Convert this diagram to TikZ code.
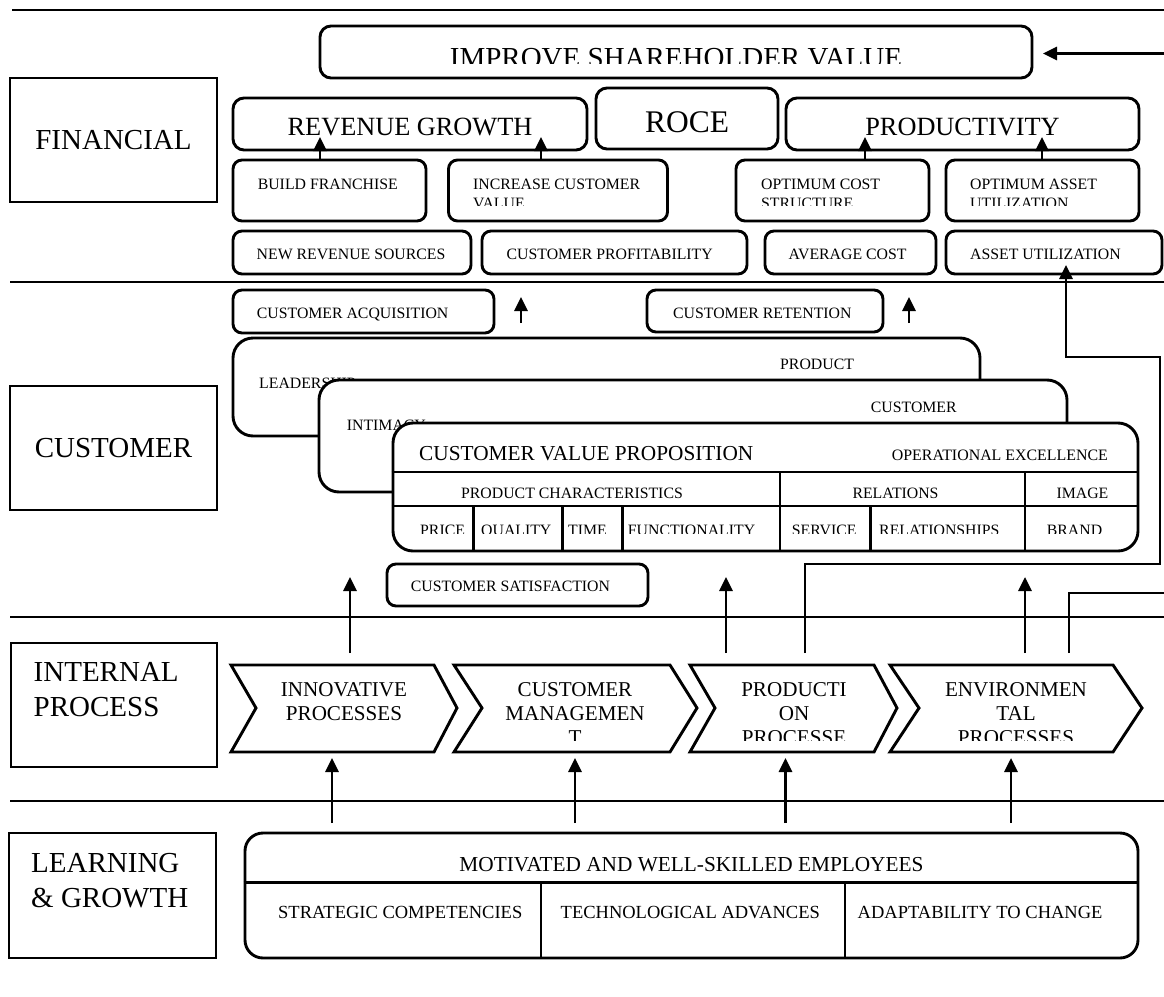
\documentclass[tikz,border=0pt]{standalone}
\usepackage{fontspec}
\setmainfont{Liberation Serif}
\usetikzlibrary{arrows.meta}
\newcommand{\fsz}[1]{\fontsize{#1}{#1}\selectfont}
\newcommand{\chev}[5]{\draw[lw,fill=white] (#2,665) -- (#4,665) -- (#5,708) -- (#4,752) -- (#2,752) -- (#3,708) -- cycle; \coordinate (#1) at ({(#2+#5)/2},708);}
\begin{document}
\begin{tikzpicture}[x=1pt,y=-1pt,
  lw/.style={line width=2.9pt},
  labbox/.style={draw,lw,inner sep=0pt,font=\fsz{29}},
  rbox/.style={draw,lw,rounded corners=9pt,inner sep=0pt,fill=white},
  bigbox/.style={draw,lw,rounded corners=20pt,inner sep=0pt,fill=white},
  arr/.style={lw,-{Triangle[length=14pt,width=13pt]}},
  tl/.style={inner sep=0pt,anchor=base west},
  tc/.style={inner sep=0pt,anchor=base},
  sm/.style={font=\fsz{15.8}},
  chv/.style={tc,font=\fsz{21.1}},
]
\useasboundingbox (0,0) rectangle (1164,996);

% ---------- horizontal rules ----------
\coordinate (r1a) at (12,10);  \coordinate (r1b) at (1164,10);
\coordinate (r2a) at (10,282); \coordinate (r2b) at (1164,282);
\coordinate (r3a) at (10,617); \coordinate (r3b) at (1164,617);
\coordinate (r4a) at (10,801); \coordinate (r4b) at (1164,801);
\draw[lw] (r1a) -- (r1b);
\draw[lw] (r2a) -- (r2b);
\draw[lw] (r3a) -- (r3b);
\draw[lw] (r4a) -- (r4b);

% ---------- perspective labels ----------
\node[labbox,minimum width=207pt,minimum height=124pt] (lfin) at (113.5,140) {FINANCIAL};
\node[labbox,minimum width=207pt,minimum height=124pt] (lcus) at (113.5,448) {CUSTOMER};
\node[labbox,minimum width=206pt,minimum height=124pt] (lint) at (114,705) {};
\node[tl,font=\fsz{29}] (lint1) at (33.5,681.5) {INTERNAL};
\node[tl,font=\fsz{29}] (lint2) at (33.5,716) {PROCESS};
\node[labbox,minimum width=207pt,minimum height=125pt] (llg) at (112.5,895.5) {};
\node[tl,font=\fsz{29}] (llg1) at (31,872) {LEARNING};
\node[tl,font=\fsz{29}] (llg2) at (31,907) {\& GROWTH};

% ---------- financial ----------
\node[rbox,rounded corners=11pt,minimum width=712pt,minimum height=52pt] (isv) at (676,52) {};
\begin{scope}
\clip (322,28) rectangle (1030,63);
\node[tc,font=\fsz{29}] (isvt) at (676,67) {IMPROVE SHAREHOLDER VALUE};
\end{scope}

\node[rbox,rounded corners=11pt,minimum width=354pt,minimum height=52pt] (rev) at (410,124) {};
\node[tc,font=\fsz{26.3}] (revt) at (410,135) {REVENUE GROWTH};
\node[rbox,rounded corners=11pt,minimum width=182pt,minimum height=61pt] (roce) at (687,118.5) {};
\node[tc,font=\fsz{31.5}] (rocet) at (687,132) {ROCE};
\node[rbox,rounded corners=11pt,minimum width=353pt,minimum height=52pt] (prv) at (962.5,124) {};
\node[tc,font=\fsz{26.3}] (prvt) at (962.5,135) {PRODUCTIVITY};

\node[rbox,minimum width=193pt,minimum height=61pt] (bf) at (329.5,190.5) {};
\node[tl,sm] (bft) at (257.6,189.5) {BUILD FRANCHISE};
\node[rbox,minimum width=219pt,minimum height=61pt] (icv) at (558,190.5) {};
\node[rbox,minimum width=193pt,minimum height=61pt] (ocs) at (832.5,190.5) {};
\node[rbox,minimum width=193pt,minimum height=61pt] (oau) at (1042.5,190.5) {};
\begin{scope}
\clip (440,165) rectangle (1140,205.5);
\node[tl,sm] (icv1) at (473,189.5) {INCREASE CUSTOMER};
\node[tl,sm] (icv2) at (473,208.5) {VALUE};
\node[tl,sm] (ocs1) at (761,189.5) {OPTIMUM COST};
\node[tl,sm] (ocs2) at (761,208.5) {STRUCTURE};
\node[tl,sm] (oau1) at (970,189.5) {OPTIMUM ASSET};
\node[tl,sm] (oau2) at (970,208.5) {UTILIZATION};
\end{scope}

\node[rbox,minimum width=238pt,minimum height=43pt] (nrs) at (352,252.5) {};
\node[tl,sm] (nrst) at (256.5,259) {NEW REVENUE SOURCES};
\node[rbox,minimum width=265pt,minimum height=43pt] (cpr) at (614.5,252.5) {};
\node[tl,sm] (cprt) at (506.5,259) {CUSTOMER PROFITABILITY};
\node[rbox,minimum width=171pt,minimum height=43pt] (avc) at (850.5,252.5) {};
\node[tl,sm] (avct) at (788.5,259) {AVERAGE COST};
\node[rbox,minimum width=216pt,minimum height=43pt] (au) at (1054,252.5) {};
\node[tl,sm] (aut) at (970,259) {ASSET UTILIZATION};

% financial arrows
\coordinate (fa1) at (320,137);  \draw[arr] (bf.north -| fa1) -- (fa1);
\coordinate (fa2) at (541,137);  \draw[arr] (icv.north -| fa2) -- (fa2);
\coordinate (fa3) at (865,137);  \draw[arr] (ocs.north -| fa3) -- (fa3);
\coordinate (fa4) at (1042,137); \draw[arr] (oau.north -| fa4) -- (fa4);
\coordinate (inR) at (1164,53.5); \coordinate (isvR) at (1043,53.5);
\draw[arr] (inR) -- (isvR);

% ---------- customer ----------
\node[rbox,minimum width=261pt,minimum height=43pt] (cacq) at (363.5,311.5) {};
\node[tl,sm] (cacqt) at (256.7,318.5) {CUSTOMER ACQUISITION};
\node[rbox,minimum width=236pt,minimum height=42pt] (cret) at (765,311) {};
\node[tl,sm] (crett) at (673,318.5) {CUSTOMER RETENTION};
\coordinate (ca1) at (521,323); \coordinate (ca1t) at (521,297);
\draw[arr] (ca1) -- (ca1t);
\coordinate (ca2) at (909,323); \coordinate (ca2t) at (909,297);
\draw[arr] (ca2) -- (ca2t);

\node[bigbox,minimum width=747pt,minimum height=98pt] (lead) at (606.5,387) {};
\node[tl,sm] (lead1) at (780,369) {PRODUCT};
\node[tl,sm] (lead2) at (259,388) {LEADERSHIP};
\node[bigbox,minimum width=748pt,minimum height=112pt] (intim) at (693,436) {};
\node[tl,sm] (intim1) at (870.7,412) {CUSTOMER};
\node[tl,sm] (intim2) at (346.7,430) {INTIMACY};
\node[bigbox,minimum width=745pt,minimum height=128pt] (cvp) at (765.5,487) {};
\node[tl,font=\fsz{21.3}] (cvpt) at (419,460) {CUSTOMER VALUE PROPOSITION};
\node[tl,font=\fsz{15.9}] (opex) at (891.7,460) {OPERATIONAL EXCELLENCE};
% table lines
\draw[lw] (cvp.west |- 0,472) -- (cvp.east |- 0,472);
\draw[lw] (cvp.west |- 0,506) -- (cvp.east |- 0,506);
\draw[lw] (780,472) -- (780,551);
\draw[lw] (1025,472) -- (1025,551);
\draw[lw] (473.3,506) -- (473.3,551);
\draw[lw] (562.3,506) -- (562.3,551);
\draw[lw] (622.7,506) -- (622.7,551);
\draw[lw] (870.7,506) -- (870.7,551);
\node[tc,sm] (pchar) at (572,498) {PRODUCT CHARACTERISTICS};
\node[tc,sm] (rel) at (895.5,498) {RELATIONS};
\node[tc,sm] (img) at (1082.5,498) {IMAGE};
\begin{scope}
\clip (395,508) rectangle (1136,533.3);
\node[tl,sm] (c1) at (420,535.5) {PRICE};
\node[tl,sm] (c2) at (481,535.5) {QUALITY};
\node[tl,sm] (c3) at (568,535.5) {TIME};
\node[tl,sm] (c4) at (627.7,535.5) {FUNCTIONALITY};
\node[tl,sm] (c5) at (791.7,535.5) {SERVICE};
\node[tl,sm] (c6) at (879,535.5) {RELATIONSHIPS};
\node[tl,sm] (c7) at (1046.7,535.5) {BRAND};
\end{scope}

\node[rbox,minimum width=261pt,minimum height=42pt] (csat) at (517.5,585) {};
\node[tl,sm] (csatt) at (410.7,591.5) {CUSTOMER SATISFACTION};

% ---------- internal process ----------
\chev{innov}{231}{256}{434}{457}
\chev{cman}{454}{482}{670}{697}
\chev{prod}{690}{715}{874}{897}
\chev{env}{890}{919}{1113}{1142}
\node[chv] (in1) at (344,696) {INNOVATIVE};
\node[chv] (in2) at (344,720) {PROCESSES};
\begin{scope}
\clip (440,670) rectangle (1140,740.5);
\node[chv] (cm1) at (575,696) {CUSTOMER};
\node[chv] (cm2) at (575,720) {MANAGEMEN};
\node[chv] (cm3) at (575,744) {T};
\node[chv] (pp1) at (794,696) {PRODUCTI};
\node[chv] (pp2) at (794,720) {ON};
\node[chv] (pp3) at (794,744) {PROCESSE};
\node[chv] (ep1) at (1016,696) {ENVIRONMEN};
\node[chv] (ep2) at (1016,720) {TAL};
\node[chv] (ep3) at (1016,744) {PROCESSES};
\end{scope}

% arrows chevrons -> customer
\coordinate (u1) at (350,653);  \coordinate (u1t) at (350,577);
\coordinate (u2) at (726,653);  \coordinate (u2t) at (726,577);
\coordinate (u3) at (1025,653); \coordinate (u3t) at (1025,577);
\draw[arr] (u1) -- (u1t);
\draw[arr] (u2) -- (u2t);
\draw[arr] (u3) -- (u3t);

% production loop to asset utilization
\coordinate (pc0) at (805,653);
\coordinate (pc1) at (805,564);
\coordinate (pc2) at (1160,564);
\coordinate (pc3) at (1160,357);
\coordinate (pc4) at (1066,357);
\coordinate (pc5) at (1066,265);
\draw[arr] (pc0) -- (pc1) -- (pc2) -- (pc3) -- (pc4) -- (pc5);

% environmental loop to the right edge
\coordinate (ec0) at (1069,653);
\coordinate (ec1) at (1069,593);
\coordinate (ec2) at (1164,593);
\draw[lw] (ec0) -- (ec1) -- (ec2);

% ---------- learning & growth ----------
\node[draw,lw,rounded corners=18pt,inner sep=0pt,minimum width=893pt,minimum height=125pt] (learn) at (691.5,895.5) {};
\draw[lw] (learn.west |- 0,882.3) -- (learn.east |- 0,882.3);
\draw[lw] (541,882.3) -- (541,958);
\draw[lw] (845,882.3) -- (845,958);
\node[tc,font=\fsz{21.3}] (mot) at (691.5,871.7) {MOTIVATED AND WELL-SKILLED EMPLOYEES};
\node[tl,font=\fsz{18.5}] (sc) at (278,918) {STRATEGIC COMPETENCIES};
\node[tl,font=\fsz{18.5}] (ta) at (560.5,918) {TECHNOLOGICAL ADVANCES};
\node[tl,font=\fsz{18.5}] (atc) at (857.5,918) {ADAPTABILITY TO CHANGE};

\coordinate (d1) at (332,823);   \coordinate (d1t) at (332,758);
\coordinate (d2) at (575,823);   \coordinate (d2t) at (575,758);
\coordinate (d3) at (785.5,823); \coordinate (d3t) at (785.5,758);
\coordinate (d4) at (1011,823);  \coordinate (d4t) at (1011,758);
\draw[arr] (d1) -- (d1t);
\draw[arr] (d2) -- (d2t);
\draw[arr] (d3) -- (d3t);
\draw[arr] (d4) -- (d4t);
\end{tikzpicture}
\end{document}
